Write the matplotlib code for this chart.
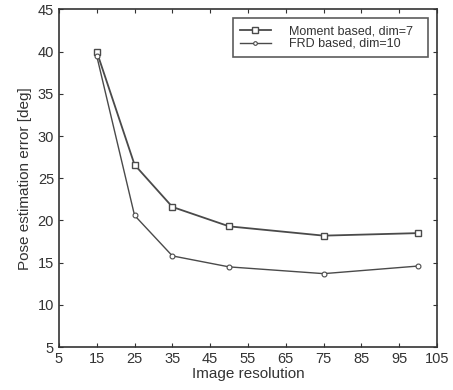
import matplotlib
matplotlib.use("Agg")
import matplotlib.pyplot as plt

plt.rcParams["font.family"] = ["Liberation Sans", "DejaVu Sans"]

resolution = [15, 25, 35, 50, 75, 100]
moment_err = [40.0, 26.6, 21.6, 19.3, 18.2, 18.5]
frd_err    = [39.5, 20.6, 15.8, 14.5, 13.7, 14.6]

x_ticks = [5, 15, 25, 35, 45, 55, 65, 75, 85, 95, 105]
y_ticks = [5, 10, 15, 20, 25, 30, 35, 40, 45]

col = "#4a4a4a"

fig = plt.figure(figsize=(4.53, 3.90), dpi=100)
ax = fig.add_axes([0.130, 0.110, 0.835, 0.866])

ax.plot(resolution, moment_err, "-s", color=col, lw=1.3, markersize=5,
        markerfacecolor="white", markeredgecolor=col, markeredgewidth=1.0,
        label="Moment based, dim=7")
ax.plot(resolution, frd_err, "-o", color=col, lw=1.0, markersize=3.5,
        markerfacecolor="white", markeredgecolor=col, markeredgewidth=0.8,
        label="FRD based, dim=10")

ax.set_xlim(5, 105)
ax.set_ylim(5, 45)
ax.set_xticks(x_ticks)
ax.set_yticks(y_ticks)
ax.tick_params(direction="in", length=3, labelsize=10.5, colors="#333333",
               top=True, right=True, width=0.8)
for s in ax.spines.values():
    s.set_color("#333333")
    s.set_linewidth(1.2)

ax.set_xlabel("Image resolution", fontsize=11, color="#333333", labelpad=1)
ax.set_ylabel("Pose estimation error [deg]", fontsize=11, color="#333333", labelpad=4)

leg = ax.legend(loc="upper left", bbox_to_anchor=(0.460, 0.867, 0.516, 0.106),
                mode="expand", borderaxespad=0, fontsize=9,
                frameon=True, fancybox=False, edgecolor="#333333",
                handlelength=2.5, handletextpad=1.4, borderpad=0.55,
                labelspacing=0.05, markerscale=0.75)
leg.get_frame().set_linewidth(1.2)
for t in leg.get_texts():
    t.set_color("#333333")

fig.savefig("out.png", dpi=100)
